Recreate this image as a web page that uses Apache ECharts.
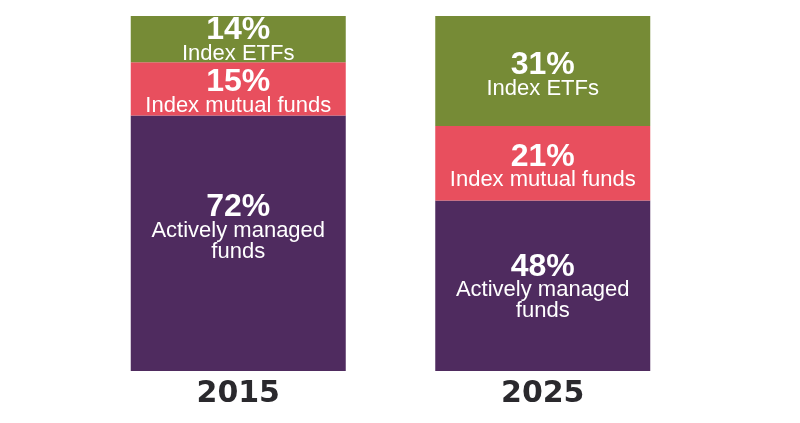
<!DOCTYPE html>
<html>
<head>
<meta charset="utf-8">
<script src="https://cdn.jsdelivr.net/npm/echarts@6/dist/echarts.min.js"></script>
<style>
html,body{margin:0;padding:0;background:#fff;}
#chart{width:800px;height:423px;}
</style>
</head>
<body>
<div id="chart"></div>
<script>
var categories = ['2015', '2025'];
var activeShare = [72, 48];
var indexMutualShare = [15, 21];
var indexEtfShare = [14, 31];
var seriesNames = ['Actively managed funds', 'Index mutual funds', 'Index ETFs'];
var labelNames = ['Actively managed\nfunds', 'Index mutual funds', 'Index ETFs'];
var colors = ['#4f2b5f', '#e84f5e', '#768b36'];

var chart = echarts.init(document.getElementById('chart'), null, {renderer: 'canvas'});

var allData = [activeShare, indexMutualShare, indexEtfShare];
// small per-label vertical nudges [series][category]
var labelNudge = [[-15, 2], [4, 4], [2, 5]];

function makeSeries(i) {
  var data = allData[i].map(function (v, j) {
    return {value: v, label: {offset: [0, labelNudge[i][j]]}};
  });
  return {
    name: seriesNames[i],
    type: 'bar',
    stack: 'total',
    barWidth: 215,
    clip: true,
    itemStyle: {color: colors[i]},
    label: {
      show: true,
      position: 'inside',
      formatter: function (p) {
        var lines = labelNames[i].split('\n').map(function (t) { return '{n|' + t + '}'; });
        return '{p|' + p.value + '%}\n' + lines.join('\n');
      },
      rich: {
        p: {
          fontFamily: 'Liberation Sans',
          fontWeight: 'bold',
          fontSize: 32,
          lineHeight: 26,
          color: '#ffffff'
        },
        n: {
          fontFamily: 'Liberation Sans',
          fontSize: 22,
          lineHeight: 21,
          color: '#ffffff'
        }
      }
    },
    data: data
  };
}

var option = {
  animation: false,
  backgroundColor: '#ffffff',
  grid: {left: 86, right: 105, top: 16, bottom: 52},
  xAxis: {
    type: 'category',
    data: categories,
    axisLine: {show: false},
    axisTick: {show: false},
    axisLabel: {
      margin: 8,
      fontFamily: 'DejaVu Sans',
      fontWeight: 'bold',
      fontSize: 30,
      color: '#2a292d'
    }
  },
  yAxis: {
    type: 'value',
    min: 0,
    max: 100,
    show: false,
    splitLine: {show: false}
  },
  series: [makeSeries(0), makeSeries(1), makeSeries(2)]
};

chart.setOption(option);
</script>
</body>
</html>
